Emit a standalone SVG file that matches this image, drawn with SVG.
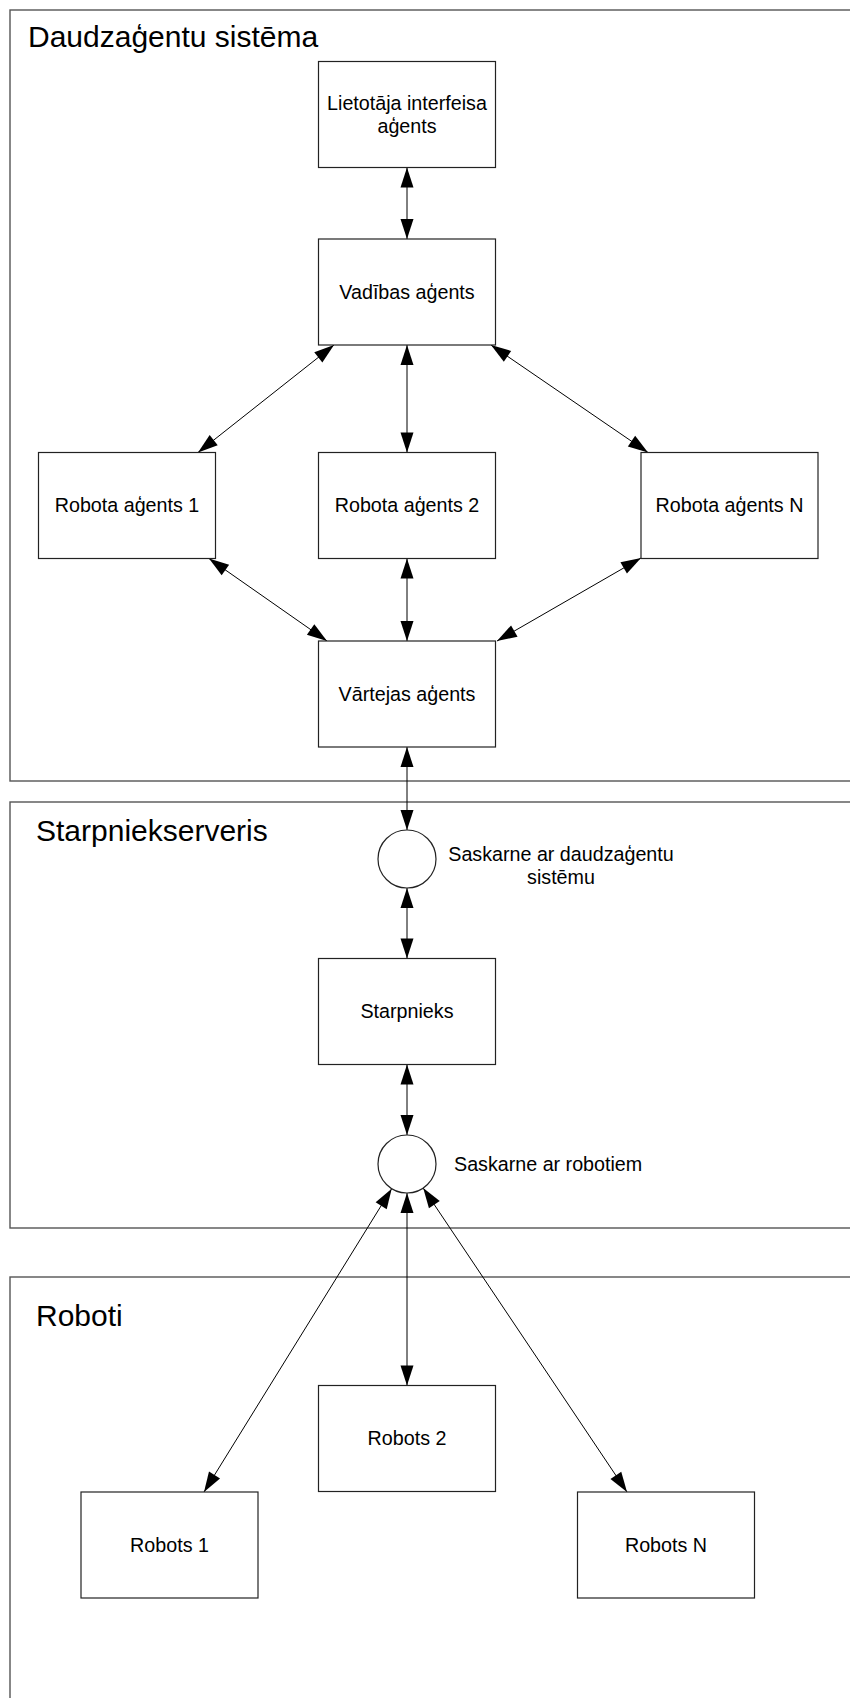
<svg xmlns="http://www.w3.org/2000/svg" width="850" height="1698" viewBox="0 0 850 1698">
<style>
.frame{fill:none;stroke:#555;stroke-width:1.4}
.box{fill:#fff;stroke:#222;stroke-width:1.2}
.circ{fill:#fff;stroke:#222;stroke-width:1.2}
.title{font-family:"Liberation Sans",Arial,sans-serif;font-size:30px;fill:#000}
.lbl{font-family:"Liberation Sans",Arial,sans-serif;font-size:19.7px;fill:#000;text-anchor:middle}
.side{font-family:"Liberation Sans",Arial,sans-serif;font-size:19.7px;fill:#000}
.conn line{stroke:#000;stroke-width:1;marker-start:url(#ah);marker-end:url(#ah)}
</style>
<defs>
<marker id="ah" viewBox="-1 -8 22 16" markerWidth="22" markerHeight="16" refX="20" refY="0" orient="auto-start-reverse" markerUnits="userSpaceOnUse">
<path d="M0,-6.5 L20,0 L0,6.5 z" fill="#000"/>
</marker>
</defs>
<rect width="850" height="1698" fill="#fff"/>
<g id="frame-mas">
<rect class="frame" x="10" y="10" width="900" height="771"/>
<text class="title" x="28" y="47">Daudzaģentu sistēma</text>
</g>
<g id="frame-server">
<rect class="frame" x="10" y="802" width="900" height="426"/>
<text class="title" x="36" y="841">Starpniekserveris</text>
</g>
<g id="frame-robots">
<rect class="frame" x="10" y="1277" width="900" height="500"/>
<text class="title" x="36" y="1326">Roboti</text>
</g>
<g class="conn" id="connectors">
<line x1="407" y1="167.5" x2="407" y2="239"/>
<line x1="407" y1="345" x2="407" y2="452.5"/>
<line x1="334" y1="345" x2="198" y2="452.5"/>
<line x1="491" y1="345" x2="648" y2="452.5"/>
<line x1="209" y1="558.5" x2="327" y2="641"/>
<line x1="407" y1="558.5" x2="407" y2="641"/>
<line x1="641" y1="558" x2="497" y2="641"/>
<line x1="407" y1="747" x2="407" y2="830"/>
<line x1="407" y1="888" x2="407" y2="958.5"/>
<line x1="407" y1="1064.5" x2="407" y2="1135"/>
<line x1="407" y1="1193" x2="407" y2="1385.5"/>
<line x1="391.7" y1="1188.7" x2="204" y2="1492"/>
<line x1="423.2" y1="1188.1" x2="627" y2="1492"/>
</g>
<g id="lietotaja">
<rect class="box" x="318.5" y="61.5" width="177" height="106"/>
<text class="lbl" x="407" y="110">Lietotāja interfeisa</text>
<text class="lbl" x="407" y="133">aģents</text>
</g>
<g id="vadibas">
<rect class="box" x="318.5" y="239" width="177" height="106"/>
<text class="lbl" x="407" y="298.5">Vadības aģents</text>
</g>
<g id="robota1">
<rect class="box" x="38.5" y="452.5" width="177" height="106"/>
<text class="lbl" x="127" y="512">Robota aģents 1</text>
</g>
<g id="robota2">
<rect class="box" x="318.5" y="452.5" width="177" height="106"/>
<text class="lbl" x="407" y="512">Robota aģents 2</text>
</g>
<g id="robotaN">
<rect class="box" x="641" y="452.5" width="177" height="106"/>
<text class="lbl" x="729.5" y="512">Robota aģents N</text>
</g>
<g id="vartejas">
<rect class="box" x="318.5" y="641" width="177" height="106"/>
<text class="lbl" x="407" y="700.5">Vārtejas aģents</text>
</g>
<g id="saskarne-mas">
<circle class="circ" cx="407" cy="859" r="29"/>
<text class="lbl" x="561" y="861">Saskarne ar daudzaģentu</text>
<text class="lbl" x="561" y="884">sistēmu</text>
</g>
<g id="starpnieks">
<rect class="box" x="318.5" y="958.5" width="177" height="106"/>
<text class="lbl" x="407" y="1018">Starpnieks</text>
</g>
<g id="saskarne-robots">
<circle class="circ" cx="407" cy="1164" r="29"/>
<text class="side" x="454" y="1171">Saskarne ar robotiem</text>
</g>
<g id="robots2">
<rect class="box" x="318.5" y="1385.5" width="177" height="106"/>
<text class="lbl" x="407" y="1445">Robots 2</text>
</g>
<g id="robots1">
<rect class="box" x="81" y="1492" width="177" height="106"/>
<text class="lbl" x="169.5" y="1552">Robots 1</text>
</g>
<g id="robotsN">
<rect class="box" x="577.5" y="1492" width="177" height="106"/>
<text class="lbl" x="666" y="1552">Robots N</text>
</g>
</svg>
